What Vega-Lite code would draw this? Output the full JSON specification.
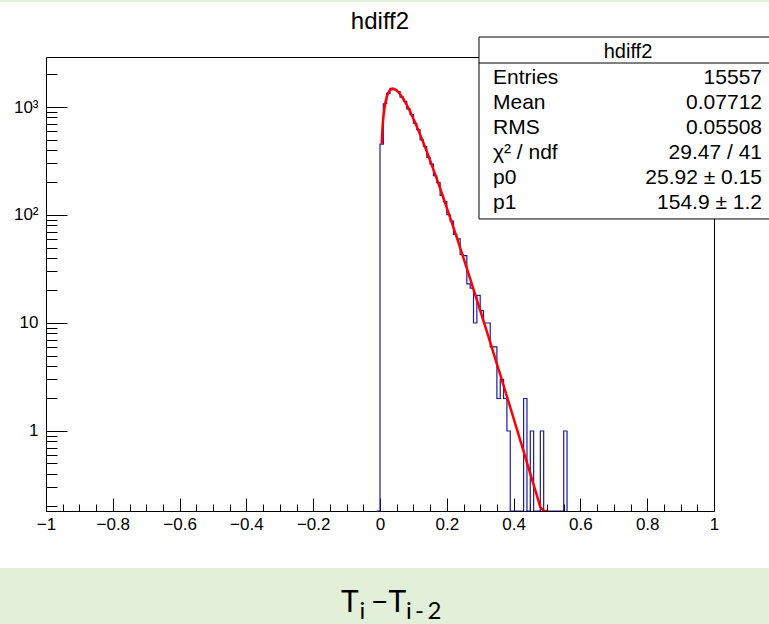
{
  "$schema": "https://vega.github.io/schema/vega-lite/v6.json",
  "width": 668,
  "height": 454,
  "autosize": {"type": "none"},
  "padding": {"left": 46, "top": 57, "right": 55, "bottom": 113},
  "background": "white",
  "config": {
    "view": {"stroke": "black", "strokeWidth": 1},
    "font": "Liberation Sans",
    "axis": {"grid": false, "domain": false, "title": null, "labelColor": "black", "tickColor": "black", "labelFont": "Liberation Sans"}
  },
  "datasets": {
    "hist": [
      {"x": -0.01, "c": 0}, {"x": 0, "c": 454}, {"x": 0.01, "c": 1072}, {"x": 0.02, "c": 1340},
      {"x": 0.03, "c": 1488}, {"x": 0.04, "c": 1445}, {"x": 0.05, "c": 1391}, {"x": 0.06, "c": 1236},
      {"x": 0.07, "c": 1131}, {"x": 0.08, "c": 962}, {"x": 0.09, "c": 851}, {"x": 0.1, "c": 707},
      {"x": 0.11, "c": 616}, {"x": 0.12, "c": 497}, {"x": 0.13, "c": 431}, {"x": 0.14, "c": 342},
      {"x": 0.15, "c": 296}, {"x": 0.16, "c": 231}, {"x": 0.17, "c": 199}, {"x": 0.18, "c": 152},
      {"x": 0.19, "c": 133}, {"x": 0.2, "c": 101}, {"x": 0.21, "c": 88}, {"x": 0.22, "c": 66},
      {"x": 0.23, "c": 60}, {"x": 0.24, "c": 43}, {"x": 0.25, "c": 42}, {"x": 0.26, "c": 23},
      {"x": 0.27, "c": 21}, {"x": 0.28, "c": 10}, {"x": 0.29, "c": 18}, {"x": 0.3, "c": 13},
      {"x": 0.31, "c": 10}, {"x": 0.32, "c": 10}, {"x": 0.33, "c": 6}, {"x": 0.34, "c": 6},
      {"x": 0.35, "c": 2}, {"x": 0.36, "c": 3}, {"x": 0.37, "c": 2}, {"x": 0.38, "c": 1},
      {"x": 0.39, "c": 0}, {"x": 0.4, "c": 0}, {"x": 0.41, "c": 0}, {"x": 0.42, "c": 0},
      {"x": 0.43, "c": 2}, {"x": 0.44, "c": 0}, {"x": 0.45, "c": 1}, {"x": 0.46, "c": 0},
      {"x": 0.47, "c": 0}, {"x": 0.48, "c": 1}, {"x": 0.49, "c": 0}, {"x": 0.5, "c": 0},
      {"x": 0.51, "c": 0}, {"x": 0.52, "c": 0}, {"x": 0.53, "c": 0}, {"x": 0.54, "c": 0},
      {"x": 0.55, "c": 1}, {"x": 0.56, "c": 0}
    ],
    "fit": [
      {"x": 0.005, "f": 457.1}, {"x": 0.0075, "f": 642.6}, {"x": 0.01, "f": 803.1}, {"x": 0.015, "f": 1058.2},
      {"x": 0.02, "f": 1239.5}, {"x": 0.025, "f": 1361.0}, {"x": 0.03, "f": 1434.6}, {"x": 0.035, "f": 1470.4},
      {"x": 0.04, "f": 1476.2}, {"x": 0.045, "f": 1458.8}, {"x": 0.05, "f": 1423.7}, {"x": 0.06, "f": 1318.8},
      {"x": 0.07, "f": 1186.7}, {"x": 0.08, "f": 1046.5}, {"x": 0.09, "f": 908.8}, {"x": 0.1, "f": 779.1},
      {"x": 0.11, "f": 661.6}, {"x": 0.12, "f": 556.6}, {"x": 0.13, "f": 465.5}, {"x": 0.14, "f": 386.7},
      {"x": 0.15, "f": 319.9}, {"x": 0.16, "f": 263.1}, {"x": 0.17, "f": 215.8}, {"x": 0.18, "f": 176.3},
      {"x": 0.19, "f": 143.6}, {"x": 0.2, "f": 116.6}, {"x": 0.21, "f": 94.5}, {"x": 0.22, "f": 76.4},
      {"x": 0.23, "f": 61.6}, {"x": 0.24, "f": 49.6}, {"x": 0.25, "f": 39.9}, {"x": 0.26, "f": 32.0},
      {"x": 0.27, "f": 25.6}, {"x": 0.28, "f": 20.5}, {"x": 0.29, "f": 16.38}, {"x": 0.3, "f": 13.1},
      {"x": 0.31, "f": 10.42}, {"x": 0.32, "f": 8.32}, {"x": 0.33, "f": 6.61}, {"x": 0.34, "f": 5.26},
      {"x": 0.35, "f": 4.17}, {"x": 0.36, "f": 3.32}, {"x": 0.37, "f": 2.63}, {"x": 0.38, "f": 2.086},
      {"x": 0.39, "f": 1.652}, {"x": 0.4, "f": 1.308}, {"x": 0.41, "f": 1.034}, {"x": 0.42, "f": 0.818},
      {"x": 0.43, "f": 0.646}, {"x": 0.44, "f": 0.51}, {"x": 0.45, "f": 0.4026}, {"x": 0.46, "f": 0.3175},
      {"x": 0.47, "f": 0.2505}, {"x": 0.48, "f": 0.1973}, {"x": 0.49, "f": 0.1555}, {"x": 0.5, "f": 0.122}
    ],
    "stats": [
      {"label": "Entries", "value": "15557"},
      {"label": "Mean", "value": "0.07712"},
      {"label": "RMS", "value": "0.05508"},
      {"label": "χ² / ndf", "value": "29.47 / 41"},
      {"label": "p0", "value": "25.92 ± 0.15"},
      {"label": "p1", "value": "154.9 ± 1.2"}
    ]
  },
  "layer": [
    {
      "layer": [
        {
          "data": {"name": "hist"},
          "mark": {"type": "line", "interpolate": "step-after", "color": "#1a1aa8", "strokeWidth": 1.2, "clip": true},
          "encoding": {
            "x": {"field": "x", "type": "quantitative", "scale": {"domain": [-1, 1], "nice": false, "zero": false},
              "axis": {"orient": "bottom", "values": [-1, -0.8, -0.6, -0.4, -0.2, 0, 0.2, 0.4, 0.6, 0.8, 1], "format": "~g", "ticks": false, "labelFontSize": 17, "labelPadding": 5, "labelFlush": false, "labelOverlap": false}},
            "y": {"field": "c", "type": "quantitative", "scale": {"type": "log", "domain": [0.1816, 2904], "nice": false, "clamp": true},
              "axis": {"orient": "left", "values": [1, 10, 100, 1000], "labelExpr": "datum.value == 1000 ? '10³' : datum.value == 100 ? '10²' : datum.value == 10 ? '10' : '1'", "ticks": false, "labelFontSize": 17, "labelPadding": 8, "labelOverlap": false}}
          }
        },
        {
          "data": {"name": "fit"},
          "mark": {"type": "line", "color": "#ff0000", "strokeWidth": 2.5, "clip": true},
          "encoding": {
            "x": {"field": "x", "type": "quantitative", "scale": {"domain": [-1, 1], "nice": false, "zero": false},
              "axis": {"orient": "bottom", "values": [-1, -0.8, -0.6, -0.4, -0.2, 0, 0.2, 0.4, 0.6, 0.8, 1], "labels": false, "tickSize": -13, "tickWidth": 1}},
            "y": {"field": "f", "type": "quantitative",
              "axis": {"orient": "left", "values": [1, 10, 100, 1000], "labels": false, "tickSize": -21, "tickWidth": 1}}
          }
        },
        {
          "data": {"name": "fit"},
          "mark": {"type": "point", "opacity": 0},
          "encoding": {
            "x": {"field": "x", "type": "quantitative", "scale": {"domain": [-1, 1], "nice": false, "zero": false},
              "axis": {"orient": "bottom", "values": [-1, -0.95, -0.9, -0.85, -0.8, -0.75, -0.7, -0.65, -0.6, -0.55, -0.5, -0.45, -0.4, -0.35, -0.3, -0.25, -0.2, -0.15, -0.1, -0.05, 0, 0.05, 0.1, 0.15, 0.2, 0.25, 0.3, 0.35, 0.4, 0.45, 0.5, 0.55, 0.6, 0.65, 0.7, 0.75, 0.8, 0.85, 0.9, 0.95, 1], "labels": false, "tickSize": -7, "tickWidth": 1}},
            "y": {"field": "f", "type": "quantitative",
              "axis": {"orient": "left", "values": [0.2, 0.3, 0.4, 0.5, 0.6, 0.7, 0.8, 0.9, 2, 3, 4, 5, 6, 7, 8, 9, 20, 30, 40, 50, 60, 70, 80, 90, 200, 300, 400, 500, 600, 700, 800, 900, 2000], "labels": false, "tickSize": -11, "tickWidth": 1}}
          }
        }
      ],
      "resolve": {"axis": {"x": "independent", "y": "independent"}}
    },
    {
      "data": {"values": [{}]},
      "layer": [
        {
          "mark": {"type": "rect", "color": "#e2efd9"},
          "encoding": {
            "x": {"datum": -1.2, "type": "quantitative", "scale": {"domain": [-1, 1], "nice": false, "zero": false}, "axis": null},
            "x2": {"datum": 1.2},
            "y": {"datum": 9784, "type": "quantitative", "scale": {"type": "log", "domain": [0.1816, 2904], "nice": false}, "axis": null},
            "y2": {"datum": 9383}
          }
        },
        {
          "mark": {"type": "rect", "color": "#e2efd9"},
          "encoding": {
            "x": {"datum": -1.2, "type": "quantitative", "axis": null},
            "x2": {"datum": 1.2},
            "y": {"datum": 0.05389, "type": "quantitative", "axis": null},
            "y2": {"datum": 0.005}
          }
        },
        {
          "mark": {"type": "text", "text": "hdiff2", "fontSize": 24, "font": "Liberation Sans", "align": "center", "baseline": "alphabetic", "color": "black"},
          "encoding": {
            "x": {"datum": 0, "type": "quantitative", "axis": null},
            "y": {"datum": 5276, "type": "quantitative", "axis": null}
          }
        },
        {
          "mark": {"type": "rect", "fill": "white", "stroke": "black", "strokeWidth": 1},
          "encoding": {
            "x": {"datum": 0.2964, "type": "quantitative", "axis": null},
            "x2": {"datum": 1.1886},
            "y": {"datum": 4446, "type": "quantitative", "axis": null},
            "y2": {"datum": 91.9}
          }
        },
        {
          "mark": {"type": "rule", "color": "black", "strokeWidth": 1},
          "encoding": {
            "x": {"datum": 0.2964, "type": "quantitative", "axis": null},
            "x2": {"datum": 1.1886},
            "y": {"datum": 2555, "type": "quantitative", "axis": null}
          }
        },
        {
          "mark": {"type": "text", "text": "hdiff2", "fontSize": 20, "font": "Liberation Sans", "align": "center", "baseline": "alphabetic", "color": "black"},
          "encoding": {
            "x": {"datum": 0.7425, "type": "quantitative", "axis": null},
            "y": {"datum": 2843, "type": "quantitative", "axis": null}
          }
        },
        {
          "mark": {"type": "text", "text": "T", "fontSize": 30, "font": "Lato", "align": "left", "baseline": "alphabetic", "color": "black"},
          "encoding": {
            "x": {"datum": -0.1168, "type": "quantitative", "axis": null},
            "y": {"datum": 0.02123, "type": "quantitative", "axis": null}
          }
        },
        {
          "mark": {"type": "text", "text": "i", "fontSize": 24, "font": "Lato", "align": "left", "baseline": "alphabetic", "color": "black"},
          "encoding": {
            "x": {"datum": -0.0614, "type": "quantitative", "axis": null},
            "y": {"datum": 0.01816, "type": "quantitative", "axis": null}
          }
        },
        {
          "mark": {"type": "text", "text": "−", "fontSize": 30, "font": "Lato", "align": "left", "baseline": "alphabetic", "color": "black"},
          "encoding": {
            "x": {"datum": -0.027, "type": "quantitative", "axis": null},
            "y": {"datum": 0.02123, "type": "quantitative", "axis": null}
          }
        },
        {
          "mark": {"type": "text", "text": "T", "fontSize": 30, "font": "Lato", "align": "left", "baseline": "alphabetic", "color": "black"},
          "encoding": {
            "x": {"datum": 0.0255, "type": "quantitative", "axis": null},
            "y": {"datum": 0.02123, "type": "quantitative", "axis": null}
          }
        },
        {
          "mark": {"type": "text", "text": "i", "fontSize": 24, "font": "Lato", "align": "left", "baseline": "alphabetic", "color": "black"},
          "encoding": {
            "x": {"datum": 0.0778, "type": "quantitative", "axis": null},
            "y": {"datum": 0.01816, "type": "quantitative", "axis": null}
          }
        },
        {
          "mark": {"type": "text", "text": "-", "fontSize": 24, "font": "Lato", "align": "left", "baseline": "alphabetic", "color": "black"},
          "encoding": {
            "x": {"datum": 0.1045, "type": "quantitative", "axis": null},
            "y": {"datum": 0.01816, "type": "quantitative", "axis": null}
          }
        },
        {
          "mark": {"type": "text", "text": "2", "fontSize": 24, "font": "Lato", "align": "left", "baseline": "alphabetic", "color": "black"},
          "encoding": {
            "x": {"datum": 0.1422, "type": "quantitative", "axis": null},
            "y": {"datum": 0.01816, "type": "quantitative", "axis": null}
          }
        }
      ]
    },
    {
      "data": {"name": "stats"},
      "layer": [
        {
          "mark": {"type": "text", "align": "left", "baseline": "alphabetic", "fontSize": 21, "font": "Liberation Sans", "color": "black"},
          "encoding": {
            "x": {"datum": 0.3383, "type": "quantitative", "axis": null},
            "y": {"field": "label", "type": "ordinal", "scale": {"type": "point", "domain": ["Entries", "Mean", "RMS", "χ² / ndf", "p0", "p1"], "range": [27.3, 151.5], "padding": 0}, "axis": null},
            "text": {"field": "label"}
          }
        },
        {
          "mark": {"type": "text", "align": "right", "baseline": "alphabetic", "fontSize": 21, "font": "Liberation Sans", "color": "black"},
          "encoding": {
            "x": {"datum": 1.1437, "type": "quantitative", "axis": null},
            "y": {"field": "label", "type": "ordinal", "axis": null},
            "text": {"field": "value"}
          }
        }
      ]
    }
  ],
  "resolve": {"scale": {"y": "independent"}, "axis": {"x": "independent", "y": "independent"}}
}
